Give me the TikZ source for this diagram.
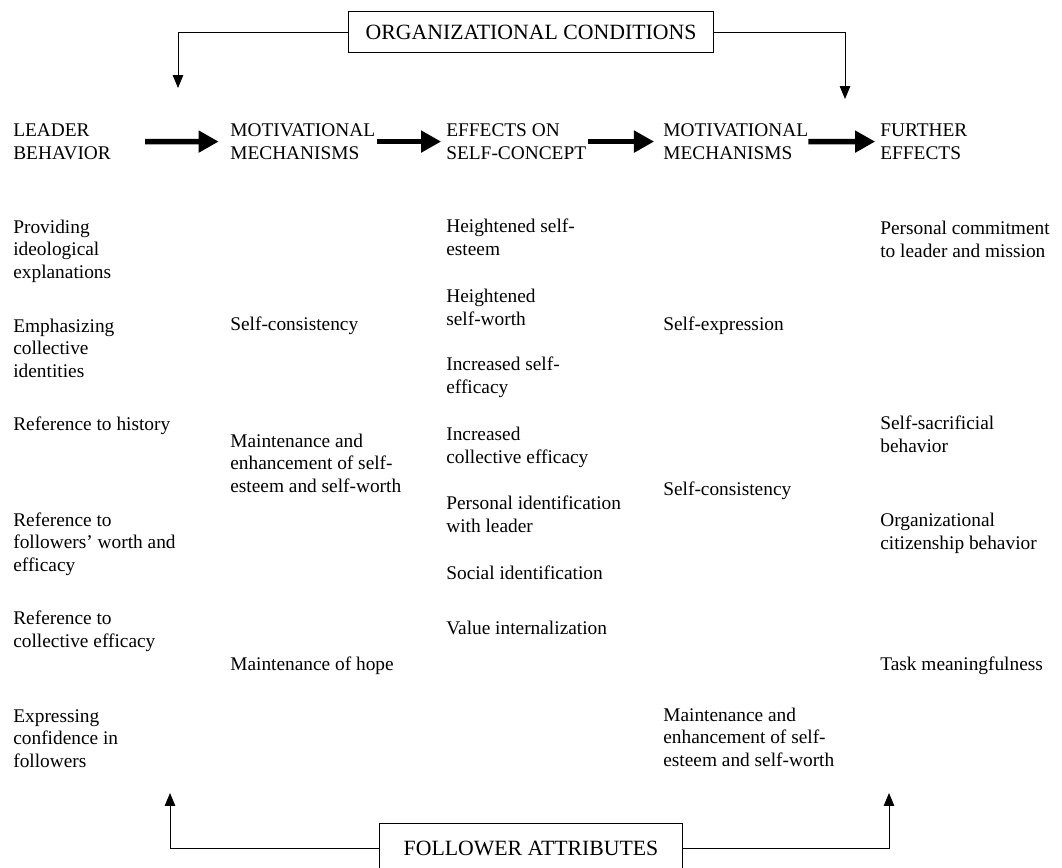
\documentclass[tikz,border=0pt]{standalone}
\usepackage{fontspec}
\setmainfont{Liberation Serif}
\usetikzlibrary{arrows.meta}

\begin{document}
\begin{tikzpicture}[x=0.62pt,y=-0.62pt,
    txt/.style={anchor=base west,inner sep=0pt,align=left,font=\fontsize{12}{13.8}\selectfont},
    titlebox/.style={draw,line width=0.7pt,inner xsep=10.5pt,minimum height=25pt,font=\fontsize{13.5}{16}\selectfont},
    link/.style={-{Triangle[length=8pt,width=6.5pt]},line width=0.6pt},
    flow/.style={-{Triangle[length=12.5pt,width=13pt]},line width=3.5pt}]
  \useasboundingbox (0,0) rectangle (1062,867);

  % boxes and their connectors
  \node[titlebox] (org) at (531,32) {ORGANIZATIONAL CONDITIONS};
  \node[titlebox,inner xsep=15pt,minimum height=30pt] (fol) at (531,848) {FOLLOWER ATTRIBUTES};
  \coordinate (orgL) at (178,88);
  \coordinate (orgR) at (845,99);
  \coordinate (folL) at (170,793);
  \coordinate (folR) at (889,793);
  \draw[link] (org.west) -| (orgL);
  \draw[link] (org.east) -| (orgR);
  \draw[link] (fol.west) -| (folL);
  \draw[link] (fol.east) -| (folR);

  % column heads (base = last line)
  \node[txt] (lead) at (13,159) {LEADER\\BEHAVIOR};
  \node[txt] (motA) at (230,159) {MOTIVATIONAL\\MECHANISMS};
  \node[txt] (effect) at (446,159) {EFFECTS ON\\SELF-CONCEPT};
  \node[txt] (motB) at (663,159) {MOTIVATIONAL\\MECHANISMS};
  \node[txt] (further) at (880,159) {FURTHER\\EFFECTS};
  \draw[flow,shorten <=21pt,shorten >=7pt] (lead) -- (motA);
  \draw[flow,shorten <=1pt,shorten >=3pt] (motA) -- (effect);
  \draw[flow,shorten <=1pt,shorten >=5.5pt] (effect) -- (motB);
  \draw[flow,shorten >=3pt] (motB) -- (further);

  % leader behavior
  \node[txt] (lb1) at (13,278) {Providing\\ideological\\explanations};
  \node[txt] (lb2) at (13,377) {Emphasizing\\collective\\identities};
  \node[txt] (lb3) at (13,430) {Reference to history};
  \node[txt] (lb4) at (13,571) {Reference to\\followers’ worth and\\efficacy};
  \node[txt] (lb5) at (13,647) {Reference to\\collective efficacy};
  \node[txt] (lb6) at (13,767) {Expressing\\confidence in\\followers};

  % motivational mechanisms (first)
  \node[txt] (ma1) at (230,330) {Self-consistency};
  \node[txt] (ma2) at (230,492) {Maintenance and\\enhancement of self-\\esteem and self-worth};
  \node[txt] (ma3) at (230,670) {Maintenance of hope};

  % effects on self-concept
  \node[txt] (sc1) at (446,255) {Heightened self-\\esteem};
  \node[txt] (sc2) at (446,325) {Heightened\\self-worth};
  \node[txt] (sc3) at (446,393) {Increased self-\\efficacy};
  \node[txt] (sc4) at (446,463) {Increased\\collective efficacy};
  \node[txt] (sc5) at (446,532) {Personal identification\\with leader};
  \node[txt] (sc6) at (446,579) {Social identification};
  \node[txt] (sc7) at (446,634) {Value internalization};

  % motivational mechanisms (second)
  \node[txt] (mb1) at (663,330) {Self-expression};
  \node[txt] (mb2) at (663,495) {Self-consistency};
  \node[txt] (mb3) at (663,766) {Maintenance and\\enhancement of self-\\esteem and self-worth};

  % further effects
  \node[txt] (fe1) at (880,257) {Personal commitment\\to leader and mission};
  \node[txt] (fe2) at (880,452) {Self-sacrificial\\behavior};
  \node[txt] (fe3) at (880,549) {Organizational\\citizenship behavior};
  \node[txt] (fe4) at (880,670) {Task meaningfulness};
\end{tikzpicture}
\end{document}
